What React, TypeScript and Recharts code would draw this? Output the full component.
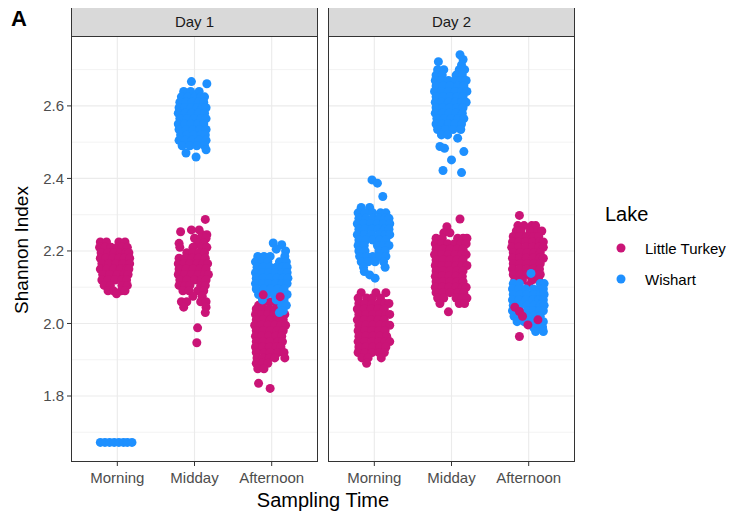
import React from 'react'
import { ScatterChart, Scatter, XAxis, YAxis, ReferenceLine } from 'recharts'

// each row: [Shannon index, jitter offsets of the samples at that level]
type Row = [number, number[]]

const times = ['Morning', 'Midday', 'Afternoon']
const days = ['Day 1', 'Day 2']
const lakes = ['Little Turkey', 'Wishart']
const yTicks = [1.8, 2.0, 2.2, 2.4, 2.6]
const yMinor = [1.7, 1.9, 2.1, 2.3, 2.5, 2.7]

// ---- Day 1 ----
const d1MorningLT: Row[] = [
  [2.225, [-0.22, -0.14, 0.02, 0.1]],
  [2.21, [-0.23, -0.16, -0.08, 0.0, 0.06, 0.13]],
  [2.195, [-0.21, -0.12, -0.04, 0.04, 0.11, 0.15]],
  [2.18, [-0.22, -0.15, -0.06, 0.02, 0.09, 0.16]],
  [2.165, [-0.2, -0.11, -0.02, 0.07, 0.16]],
  [2.15, [-0.22, -0.14, -0.05, 0.04, 0.12, 0.15]],
  [2.135, [-0.19, -0.1, 0.0, 0.09, 0.14]],
  [2.12, [-0.2, -0.12, -0.03, 0.06, 0.12]],
  [2.105, [-0.17, -0.09, 0.06, 0.13]],
  [2.09, [-0.12, -0.05, 0.05, 0.1]],
  [2.082, [-0.01]],
]
const d1MorningW: Row[] = [
  [1.672, [-0.22, -0.16, -0.1, -0.04, 0.02, 0.08, 0.13, 0.19]],
]
const d1MiddayLT: Row[] = [
  [2.287, [0.14]],
  [2.258, [-0.04, 0.06]],
  [2.253, [-0.18]],
  [2.245, [0.1, 0.16]],
  [2.235, [0.0, 0.08, 0.15]],
  [2.221, [-0.2, 0.04, 0.12]],
  [2.21, [-0.19, -0.02, 0.09, 0.16]],
  [2.195, [-0.1, -0.02, 0.06, 0.13]],
  [2.18, [-0.2, -0.12, -0.03, 0.05, 0.14]],
  [2.165, [-0.21, -0.14, -0.06, 0.03, 0.11, 0.17]],
  [2.15, [-0.2, -0.11, -0.02, 0.07, 0.15]],
  [2.135, [-0.21, -0.13, -0.04, 0.05, 0.13, 0.18]],
  [2.12, [-0.19, -0.1, 0.0, 0.09, 0.15]],
  [2.105, [-0.2, -0.12, -0.06, 0.08, 0.14]],
  [2.09, [-0.15, -0.07, 0.04, 0.12]],
  [2.075, [-0.02, 0.1]],
  [2.06, [-0.17, -0.1, 0.08, 0.15]],
  [2.045, [-0.14, 0.15]],
  [2.03, [0.14]],
  [1.988, [0.04]],
  [1.947, [0.03]],
]
const d1MiddayW: Row[] = [
  [2.667, [-0.04]],
  [2.661, [0.16]],
  [2.64, [-0.14, -0.05, 0.06]],
  [2.625, [-0.17, -0.09, 0.0, 0.08, 0.13]],
  [2.61, [-0.19, -0.11, -0.03, 0.05, 0.12]],
  [2.595, [-0.2, -0.13, -0.05, 0.03, 0.1, 0.15]],
  [2.58, [-0.21, -0.12, -0.04, 0.05, 0.13]],
  [2.565, [-0.19, -0.1, -0.01, 0.08, 0.15]],
  [2.55, [-0.21, -0.13, -0.05, 0.04, 0.12]],
  [2.535, [-0.2, -0.11, -0.02, 0.07, 0.15]],
  [2.52, [-0.18, -0.1, -0.01, 0.08, 0.14]],
  [2.505, [-0.2, -0.12, -0.03, 0.06, 0.15]],
  [2.49, [-0.16, -0.06, 0.03, 0.13]],
  [2.479, [0.15]],
  [2.47, [-0.11]],
  [2.459, [0.02]],
]
const d1AfternoonW: Row[] = [
  [2.222, [0.02]],
  [2.217, [0.13]],
  [2.205, [0.06]],
  [2.2, [0.18]],
  [2.185, [-0.18, -0.1, -0.02, 0.17]],
  [2.17, [-0.21, -0.13, -0.05, 0.1, 0.19]],
  [2.155, [-0.19, -0.11, -0.02, 0.06, 0.14, 0.2]],
  [2.14, [-0.21, -0.13, -0.04, 0.05, 0.13, 0.2]],
  [2.125, [-0.2, -0.11, -0.02, 0.07, 0.15, 0.21]],
  [2.11, [-0.21, -0.12, -0.04, 0.05, 0.13, 0.2]],
  [2.095, [-0.2, -0.1, -0.01, 0.08, 0.16]],
  [2.08, [-0.17, -0.07, 0.03, 0.12, 0.2]],
  [2.065, [-0.12, 0.06, 0.16]],
  [2.05, [0.13, 0.19]],
  [2.035, [0.15]],
  [2.03, [0.1]],
]
const d1AfternoonLT: Row[] = [
  [2.06, [-0.1, -0.02, 0.06]],
  [2.05, [-0.17, 0.12]],
  [2.04, [-0.2, -0.12, -0.04, 0.04, 0.1]],
  [2.025, [-0.21, -0.13, -0.05, 0.03, 0.11, 0.17]],
  [2.01, [-0.2, -0.11, -0.02, 0.07, 0.15]],
  [1.995, [-0.22, -0.14, -0.05, 0.04, 0.12, 0.18]],
  [1.98, [-0.2, -0.11, -0.02, 0.07, 0.15]],
  [1.965, [-0.21, -0.13, -0.04, 0.05, 0.13]],
  [1.95, [-0.2, -0.11, -0.02, 0.08, 0.14]],
  [1.935, [-0.21, -0.12, -0.03, 0.06, 0.12]],
  [1.92, [-0.2, -0.1, -0.02, 0.08, 0.16]],
  [1.905, [-0.19, -0.11, -0.03, 0.04, 0.17]],
  [1.89, [-0.2, -0.12, -0.05]],
  [1.875, [-0.18, -0.1]],
  [1.835, [-0.17]],
  [1.821, [-0.02]],
]
// Little Turkey samples plotted after the Wishart cloud
const d1AfternoonLTOver: Row[] = [
  [2.079, [-0.11]],
  [2.074, [0.11]],
]

// ---- Day 2 ----
const d2MorningW: Row[] = [
  [2.396, [-0.03]],
  [2.387, [0.04]],
  [2.35, [0.11]],
  [2.32, [-0.17, -0.06]],
  [2.305, [-0.21, -0.12, -0.02, 0.08, 0.15]],
  [2.29, [-0.2, -0.11, -0.02, 0.06, 0.14, 0.19]],
  [2.275, [-0.22, -0.14, -0.05, 0.04, 0.12, 0.2]],
  [2.26, [-0.2, -0.12, -0.03, 0.05, 0.13, 0.19]],
  [2.245, [-0.22, -0.13, -0.04, 0.06, 0.14, 0.2]],
  [2.23, [-0.2, -0.11, -0.02, 0.07, 0.15]],
  [2.215, [-0.21, -0.13, 0.04, 0.12, 0.19]],
  [2.2, [-0.2, -0.12, 0.06, 0.14]],
  [2.185, [-0.19, -0.1, -0.02, 0.07, 0.15]],
  [2.17, [-0.17, -0.08, 0.01, 0.12]],
  [2.155, [-0.14, 0.14]],
  [2.143, [-0.13]],
  [2.134, [-0.06]],
  [2.125, [0.01]],
]
const d2MorningLT: Row[] = [
  [2.085, [-0.17, 0.02, 0.15]],
  [2.07, [-0.21, -0.1, -0.03, 0.08]],
  [2.055, [-0.2, -0.12, -0.03, 0.06, 0.14, 0.19]],
  [2.04, [-0.22, -0.13, -0.04, 0.05, 0.13]],
  [2.025, [-0.2, -0.11, -0.02, 0.07, 0.15, 0.2]],
  [2.01, [-0.22, -0.13, -0.04, 0.05, 0.13]],
  [1.995, [-0.2, -0.11, -0.02, 0.07, 0.15, 0.2]],
  [1.98, [-0.21, -0.12, -0.03, 0.06, 0.14]],
  [1.965, [-0.2, -0.11, -0.02, 0.07, 0.16]],
  [1.95, [-0.21, -0.12, -0.03, 0.06, 0.14, 0.2]],
  [1.935, [-0.2, -0.11, -0.02, 0.07, 0.15]],
  [1.92, [-0.21, -0.12, -0.03, 0.06, 0.13]],
  [1.905, [-0.16, -0.08, 0.09]],
  [1.89, [-0.1]],
]
const d2MiddayW: Row[] = [
  [2.741, [0.11]],
  [2.728, [0.15]],
  [2.722, [-0.17]],
  [2.713, [0.13]],
  [2.7, [-0.18, -0.1, 0.1, 0.17]],
  [2.685, [-0.2, -0.12, 0.06, 0.14]],
  [2.67, [-0.21, -0.13, -0.04, 0.05, 0.12, 0.19]],
  [2.655, [-0.2, -0.11, -0.02, 0.08, 0.16]],
  [2.64, [-0.22, -0.13, -0.04, 0.05, 0.13, 0.2]],
  [2.625, [-0.2, -0.11, -0.02, 0.07, 0.15]],
  [2.61, [-0.21, -0.13, -0.04, 0.05, 0.13, 0.19]],
  [2.595, [-0.2, -0.11, -0.02, 0.07, 0.15]],
  [2.58, [-0.21, -0.12, -0.03, 0.06, 0.14]],
  [2.565, [-0.19, -0.1, -0.01, 0.08, 0.16]],
  [2.55, [-0.2, -0.12, -0.04, 0.04, 0.13]],
  [2.535, [-0.18, -0.08, 0.02, 0.12]],
  [2.52, [-0.13, -0.05]],
  [2.511, [0.08]],
  [2.488, [-0.15]],
  [2.483, [-0.09]],
  [2.474, [0.16]],
  [2.451, [0.0]],
  [2.422, [-0.11]],
  [2.416, [0.13]],
]
const d2MiddayLT: Row[] = [
  [2.288, [0.11]],
  [2.267, [-0.06]],
  [2.25, [-0.1, -0.02]],
  [2.235, [-0.2, -0.12, 0.08, 0.15, 0.2]],
  [2.22, [-0.21, -0.13, -0.05, 0.04, 0.12, 0.19]],
  [2.205, [-0.2, -0.11, -0.02, 0.07, 0.15]],
  [2.19, [-0.22, -0.13, -0.04, 0.05, 0.13, 0.19]],
  [2.175, [-0.2, -0.11, -0.02, 0.07, 0.15]],
  [2.16, [-0.21, -0.12, -0.03, 0.06, 0.14, 0.2]],
  [2.145, [-0.2, -0.11, -0.02, 0.07, 0.15]],
  [2.13, [-0.21, -0.12, -0.03, 0.06, 0.14]],
  [2.115, [-0.2, -0.11, -0.02, 0.07, 0.15]],
  [2.1, [-0.21, -0.12, -0.03, 0.06, 0.14, 0.19]],
  [2.085, [-0.2, -0.11, -0.02, 0.08, 0.16]],
  [2.07, [-0.18, -0.1, 0.06, 0.14, 0.2]],
  [2.055, [-0.15, 0.1, 0.17]],
  [2.032, [-0.04]],
]
const d2AfternoonLT: Row[] = [
  [2.298, [-0.12]],
  [2.27, [-0.14, -0.06, 0.04, 0.09]],
  [2.255, [-0.16, -0.1, 0.02, 0.12, 0.17]],
  [2.24, [-0.2, -0.12, -0.03, 0.06, 0.13]],
  [2.225, [-0.21, -0.13, -0.04, 0.05, 0.14, 0.19]],
  [2.21, [-0.22, -0.13, -0.04, 0.05, 0.13, 0.19]],
  [2.195, [-0.2, -0.11, -0.02, 0.07, 0.15]],
  [2.18, [-0.21, -0.12, -0.03, 0.06, 0.14, 0.19]],
  [2.165, [-0.2, -0.11, -0.02, 0.07, 0.15]],
  [2.15, [-0.21, -0.12, -0.03, 0.06, 0.14]],
  [2.135, [-0.2, -0.11, -0.02, 0.07, 0.15]],
  [2.12, [-0.18, -0.08, 0.04, 0.13]],
  [2.105, [-0.14, 0.0]],
  [2.09, [-0.15, 0.08]],
  [2.06, [-0.1]],
]
const d2AfternoonW: Row[] = [
  [2.138, [0.03]],
  [2.11, [-0.2, -0.12, 0.15, 0.2]],
  [2.095, [-0.21, -0.13, -0.04, 0.06, 0.14, 0.19]],
  [2.08, [-0.2, -0.11, -0.02, 0.07, 0.15, 0.2]],
  [2.065, [-0.21, -0.13, -0.04, 0.05, 0.13, 0.19]],
  [2.05, [-0.2, -0.11, -0.02, 0.07, 0.15, 0.2]],
  [2.035, [-0.21, -0.02, 0.06, 0.14, 0.19]],
  [2.02, [-0.19, -0.12, -0.03, 0.07, 0.15]],
  [2.005, [-0.15, -0.06, 0.04, 0.12, 0.19]],
  [1.99, [0.06, 0.13, 0.18]],
  [1.978, [0.09, 0.19]],
]
const d2AfternoonLTOver: Row[] = [
  [2.045, [-0.18]],
  [2.033, [-0.12]],
  [2.02, [-0.08]],
  [2.01, [0.12]],
  [1.996, [-0.01]],
  [1.964, [-0.12]],
]

const LT_COLOR = '#CA1477'
const W_COLOR = '#1E90FF'
const DOT_R = 4.5

const expand = (cat: number, rows: Row[]) =>
  rows.flatMap(([v, js]) => js.map((j) => ({ x: cat + j, y: v })))

const panels = [
  {
    lt: [...expand(1, d1MorningLT), ...expand(2, d1MiddayLT), ...expand(3, d1AfternoonLT)],
    w: [...expand(1, d1MorningW), ...expand(2, d1MiddayW), ...expand(3, d1AfternoonW)],
    over: expand(3, d1AfternoonLTOver),
  },
  {
    lt: [...expand(1, d2MorningLT), ...expand(2, d2MiddayLT), ...expand(3, d2AfternoonLT)],
    w: [...expand(1, d2MorningW), ...expand(2, d2MiddayW), ...expand(3, d2AfternoonW)],
    over: expand(3, d2AfternoonLTOver),
  },
]

const FONT = '"Liberation Sans", Arial, sans-serif'
const PLOT_TOP = 37
const PLOT_H = 425
const panelX = [71, 328]
const PANEL_W = 247

const dot = (color: string) => (props: any) =>
  <circle cx={props.cx} cy={props.cy} r={DOT_R} fill={color} />

function Panel({ idx }: { idx: number }) {
  const p = panels[idx]
  const first = idx === 0
  const tickStyle = { fill: '#4d4d4d', fontSize: 15, fontFamily: FONT }
  return (
    <ScatterChart
      width={first ? panelX[0] + PANEL_W : PANEL_W}
      height={519}
      margin={{ top: PLOT_TOP, right: 0, bottom: 0, left: 0 }}
    >
      <XAxis
        type="number"
        dataKey="x"
        domain={[0.4, 3.6]}
        ticks={[1, 2, 3]}
        tickFormatter={(v) => times[v - 1]}
        allowDataOverflow
        height={57}
        axisLine={false}
        tickSize={4}
        tickMargin={6}
        tickLine={{ stroke: '#333333' }}
        tick={tickStyle}
      />
      <YAxis
        type="number"
        dataKey="y"
        domain={[1.618, 2.79]}
        ticks={yTicks}
        tickFormatter={(v) => v.toFixed(1)}
        allowDataOverflow
        hide={!first}
        width={first ? panelX[0] : 0}
        axisLine={false}
        tickSize={4}
        tickMargin={3}
        tickLine={{ stroke: '#333333' }}
        tick={tickStyle}
      />
      {yMinor.map((v) => (
        <ReferenceLine key={'m' + v} y={v} stroke="#ebebeb" strokeWidth={0.6} />
      ))}
      {yTicks.map((v) => (
        <ReferenceLine key={'y' + v} y={v} stroke="#ebebeb" strokeWidth={1.1} />
      ))}
      {[1, 2, 3].map((v) => (
        <ReferenceLine key={'x' + v} x={v} stroke="#ebebeb" strokeWidth={1.1} />
      ))}
      <Scatter data={p.lt} fill={LT_COLOR} shape={dot(LT_COLOR)} isAnimationActive={false} />
      <Scatter data={p.w} fill={W_COLOR} shape={dot(W_COLOR)} isAnimationActive={false} />
      <Scatter data={p.over} fill={LT_COLOR} shape={dot(LT_COLOR)} isAnimationActive={false} />
    </ScatterChart>
  )
}

export default function App() {
  return (
    <div style={{ position: 'relative', width: 736, height: 519, margin: -8, background: '#fff', fontFamily: FONT }}>
      <div style={{ position: 'absolute', left: 0, top: 0 }}>
        <Panel idx={0} />
      </div>
      <div style={{ position: 'absolute', left: panelX[1], top: 0 }}>
        <Panel idx={1} />
      </div>

      {panelX.map((x, i) => (
        <React.Fragment key={i}>
          <div
            style={{
              position: 'absolute', left: x, top: 6, width: PANEL_W, height: PLOT_TOP - 6,
              boxSizing: 'border-box', border: '1px solid #333', background: '#d9d9d9',
              display: 'flex', alignItems: 'center', justifyContent: 'center',
              fontSize: 15, color: '#1a1a1a',
            }}
          >
            {days[i]}
          </div>
          <div
            style={{
              position: 'absolute', left: x, top: PLOT_TOP - 1, width: PANEL_W, height: PLOT_H + 1,
              boxSizing: 'border-box', border: '1px solid #333', pointerEvents: 'none',
            }}
          />
        </React.Fragment>
      ))}

      <div style={{ position: 'absolute', left: 11, top: 6, fontSize: 22, fontWeight: 'bold', color: '#000' }}>A</div>

      <div
        style={{
          position: 'absolute', left: 22, top: PLOT_TOP + PLOT_H / 2, fontSize: 19, color: '#000',
          transform: 'translate(-50%, -50%) rotate(-90deg)', whiteSpace: 'nowrap',
        }}
      >
        Shannon Index
      </div>
      <div
        style={{
          position: 'absolute', left: (panelX[0] + panelX[1] + PANEL_W) / 2, top: 500, fontSize: 20, color: '#000',
          transform: 'translate(-50%, -50%)', whiteSpace: 'nowrap',
        }}
      >
        Sampling Time
      </div>

      <div style={{ position: 'absolute', left: 605, top: 203, fontSize: 20, color: '#000' }}>Lake</div>
      {lakes.map((name, i) => (
        <div key={name} style={{ position: 'absolute', left: 612, top: 248 + i * 31, transform: 'translateY(-50%)', display: 'flex', alignItems: 'center', whiteSpace: 'nowrap' }}>
          <svg width={18} height={18}>
            <circle cx={9} cy={9} r={DOT_R} fill={i === 0 ? LT_COLOR : W_COLOR} />
          </svg>
          <span style={{ marginLeft: 15, fontSize: 15, color: '#000' }}>{name}</span>
        </div>
      ))}
    </div>
  )
}
